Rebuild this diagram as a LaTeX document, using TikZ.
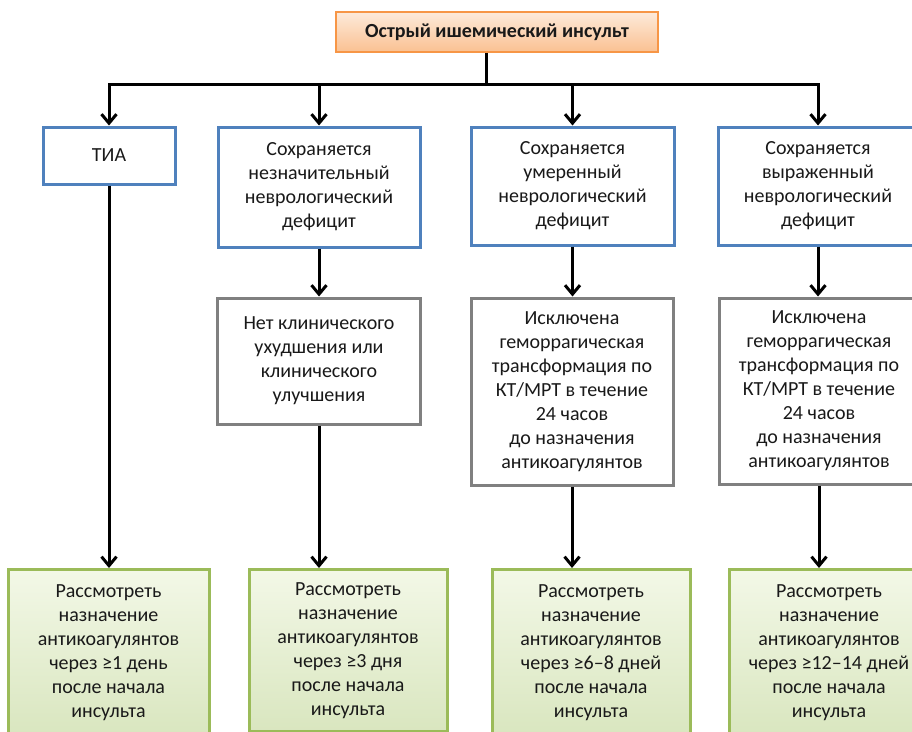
\documentclass[tikz,border=0pt]{standalone}
\usepackage{fontspec}
\setmainfont{Carlito}
\usetikzlibrary{arrows.meta}
\definecolor{boxblue}{HTML}{4F81BD}
\definecolor{boxgray}{HTML}{808080}
\definecolor{boxgreen}{HTML}{9BBB59}
\definecolor{greentop}{HTML}{F3F8E7}
\definecolor{greenbot}{HTML}{D9E6BF}
\definecolor{boxorange}{HTML}{F79646}
\definecolor{orangetop}{HTML}{FDEADA}
\definecolor{orangebot}{HTML}{FAC192}
\begin{document}
\begin{tikzpicture}[x=1pt,y=-1pt,
    every node/.style={font=\fontsize{20}{24}\selectfont,align=center,inner sep=0pt,text=black!90},
    headbox/.style={draw=boxorange,line width=1.5pt,top color=orangetop,bottom color=orangebot,font=\fontsize{20}{24}\selectfont\bfseries},
    bluebox/.style={draw=boxblue,line width=3pt,fill=white},
    graybox/.style={draw=boxgray,line width=3pt,fill=white},
    greenbox/.style={draw=boxgreen,line width=3pt,top color=greentop,bottom color=greenbot},
    arr/.style={-{Straight Barb[length=9pt,width=15pt,line width=3pt]},line width=3pt}]
    \useasboundingbox (0,0) rectangle (912,731);
    \clip (0,0) rectangle (912,731);
    \node[headbox,minimum width=322pt,minimum height=40pt] (top) at (497,32) {Острый ишемический инсульт};%верхний блок
    % первый ряд
    \node[bluebox,minimum width=132pt,minimum height=57pt] (tia) at (109,155.5) {ТИА};
    \node[bluebox,minimum width=202pt,minimum height=120pt] (mild) at (319,187) {Сохраняется\\незначительный\\неврологический\\дефицит};
    \node[bluebox,minimum width=203pt,minimum height=118pt] (moderate) at (572.5,186) {Сохраняется\\умеренный\\неврологический\\дефицит};
    \node[bluebox,minimum width=200pt,minimum height=118pt] (severe) at (818,186) {Сохраняется\\выраженный\\неврологический\\дефицит};
    % второй ряд
    \node[graybox,minimum width=203pt,minimum height=126pt] (nochange) at (319,361) {Нет клинического\\ухудшения или\\клинического\\улучшения};
    \node[graybox,minimum width=202pt,minimum height=187pt] (exclmod) at (572,391.5) {Исключена\\геморрагическая\\трансформация по\\КТ/МРТ в течение\\24 часов\\до назначения\\антикоагулянтов};
    \node[graybox,minimum width=200pt,minimum height=186pt] (exclsev) at (819,391) {Исключена\\геморрагическая\\трансформация по\\КТ/МРТ в течение\\24 часов\\до назначения\\антикоагулянтов};
    % нижний ряд
    \node[greenbox,minimum width=201pt,minimum height=166pt,anchor=north] (recone) at (108.5,568) {Рассмотреть\\назначение\\антикоагулянтов\\через ≥1 день\\после начала\\инсульта};
    \node[greenbox,minimum width=198pt,minimum height=162pt,anchor=north] (recthree) at (348,568) {Рассмотреть\\назначение\\антикоагулянтов\\через ≥3 дня\\после начала\\инсульта};
    \node[greenbox,minimum width=198pt,minimum height=166pt,anchor=north] (recsix) at (591,568) {Рассмотреть\\назначение\\антикоагулянтов\\через ≥6–8 дней\\после начала\\инсульта};
    \node[greenbox,minimum width=200pt,minimum height=166pt,anchor=north] (rectwelve) at (829,568) {Рассмотреть\\назначение\\антикоагулянтов\\через ≥12–14 дней\\после начала\\инсульта};
    % шина
    \coordinate (bus) at (486,84);
    \draw[line width=3pt] (top.south -| bus) -- (bus);
    \draw[line width=3pt,line cap=rect] (tia.north |- bus) -- (severe.north |- bus);
    \foreach \b in {tia,mild,moderate,severe}
        \draw[arr] (\b.north |- bus) -- (\b.north);
    \draw[arr] (tia.south) -- (tia.south |- recone.north);%ТИА сразу вниз
    \draw[arr] (mild.south) -- (mild.south |- nochange.north);
    \draw[arr] (nochange.south) -- (nochange.south |- recthree.north);
    \draw[arr] (moderate.south) -- (moderate.south |- exclmod.north);
    \draw[arr] (exclmod.south) -- (exclmod.south |- recsix.north);
    \draw[arr] (severe.south) -- (severe.south |- exclsev.north);
    \draw[arr] (exclsev.south) -- (exclsev.south |- rectwelve.north);
\end{tikzpicture}
\end{document}
